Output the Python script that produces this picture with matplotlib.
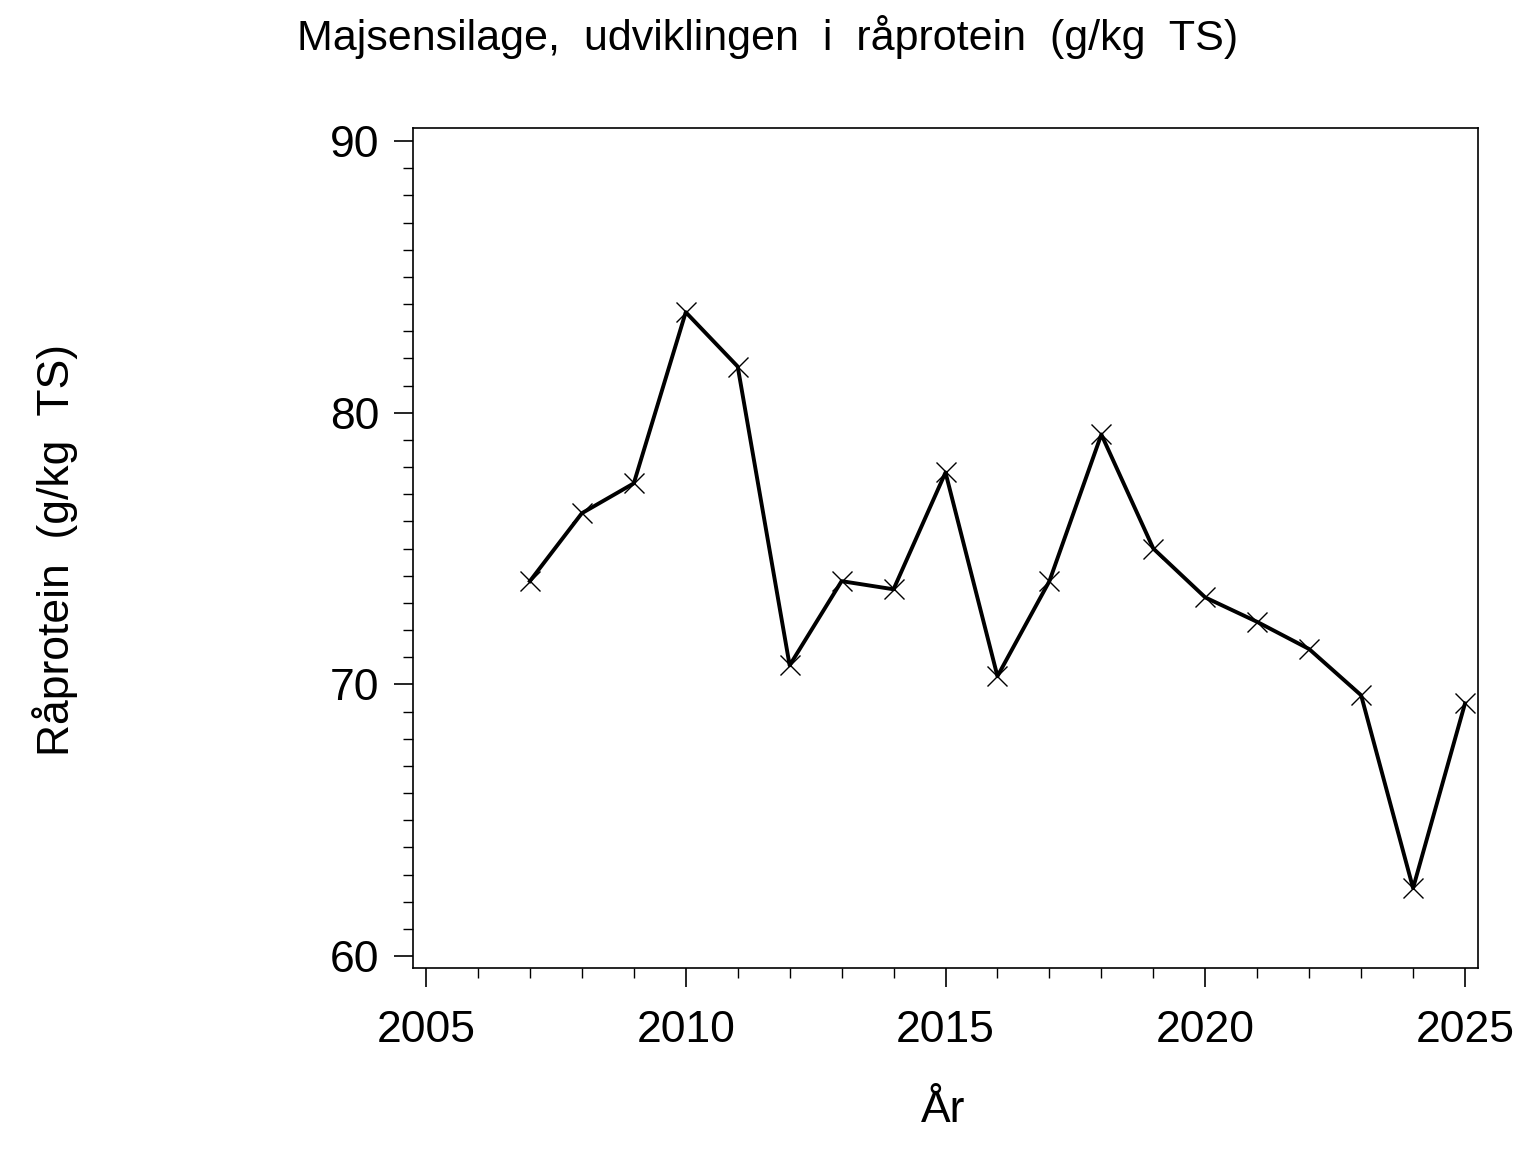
import matplotlib
matplotlib.use("Agg")
import matplotlib.pyplot as plt
from matplotlib.ticker import MultipleLocator

years = [2007, 2008, 2009, 2010, 2011, 2012, 2013, 2014, 2015, 2016,
         2017, 2018, 2019, 2020, 2021, 2022, 2023, 2024, 2025]
protein = [73.8, 76.3, 77.4, 83.7, 81.7, 70.7, 73.8, 73.5, 77.8, 70.3,
           73.8, 79.2, 75.0, 73.2, 72.3, 71.3, 69.6, 62.5, 69.3]

title = "Majsensilage,  udviklingen  i  råprotein  (g/kg  TS)"
xlabel = "År"
ylabel = "Råprotein  (g/kg  TS)"

plt.rcParams['font.family'] = ['Liberation Sans', 'DejaVu Sans']

fig = plt.figure(figsize=(15.36, 11.52), dpi=100)
ax = fig.add_axes([413/1536, 1 - 968/1152, (1478-413)/1536, (968-128)/1152])

ax.plot(years, protein, color='black', linewidth=2.8, marker='x',
        markersize=14, markeredgewidth=1.0)

ax.set_xlim(2004.75, 2025.25)
ax.set_ylim(59.56, 90.48)
ax.xaxis.set_major_locator(MultipleLocator(5))
ax.xaxis.set_minor_locator(MultipleLocator(1))
ax.yaxis.set_major_locator(MultipleLocator(10))
ax.yaxis.set_minor_locator(MultipleLocator(1))

ax.tick_params(axis='both', which='major', direction='out', length=14, width=1.2,
               labelsize=32, color='black')
ax.tick_params(axis='both', which='minor', direction='out', length=7, width=1.0,
               color='black')
ax.tick_params(axis='x', which='major', pad=16)
ax.tick_params(axis='y', which='major', pad=10)
for s in ax.spines.values():
    s.set_linewidth(1.2)

fig.text(0.5, 1 - 37/1152, title, ha='center', va='center', fontsize=31)
fig.text(943/1536, 1 - 1111/1152, xlabel, ha='center', va='center', fontsize=32)
fig.text(55/1536, 1 - 550/1152, ylabel, ha='center', va='center', fontsize=32,
         rotation=90)

fig.savefig("out.png", dpi=100, facecolor='white')
